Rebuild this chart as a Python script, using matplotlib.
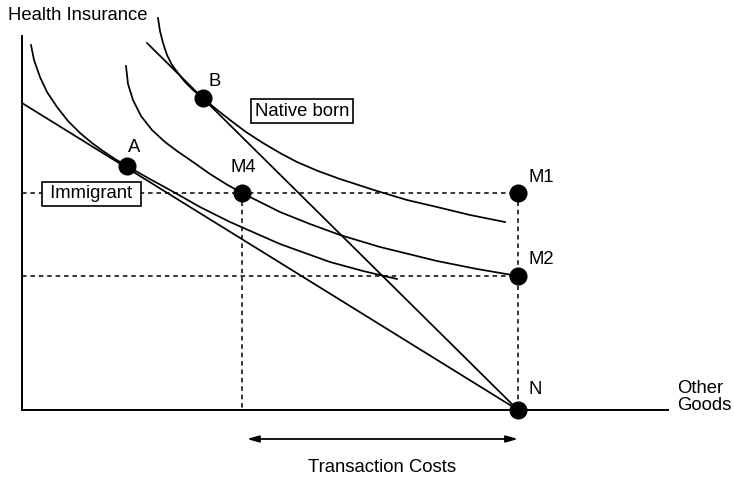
import numpy as np
import matplotlib
matplotlib.use("Agg")
import matplotlib.pyplot as plt

plt.rcParams['font.family'] = ['Liberation Sans', 'DejaVu Sans']

# indifference curves (other goods, health insurance)
immigrant_ic_x = [9, 12, 18, 25, 35, 46, 58, 70, 81, 93, 105, 126, 148, 178, 208,
                  233, 258, 283, 308, 341, 375]
immigrant_ic_y = [365, 350, 333, 318, 303, 289, 277, 267, 259, 251, 244, 232, 220, 203, 188,
                  177, 166, 157, 148, 139, 131]

m4_ic_x = [104, 106, 111, 119, 130, 143, 155, 171, 188, 204, 220, 238, 258, 288, 318,
           358, 415, 455, 496]
m4_ic_y = [344, 326, 310, 294, 280, 268, 259, 248, 236, 226, 217, 208, 198, 186, 175,
           163, 149, 141, 134]

native_ic_x = [136, 138, 141, 145, 150, 156, 163, 171, 181, 194, 208, 224, 241, 258, 275,
               296, 318, 355, 385, 415, 448, 483]
native_ic_y = [392, 379, 367, 355, 345, 337, 328, 320, 312, 301, 290, 278, 267, 257, 248,
               239, 231, 219, 210, 203, 195, 188]

# budget lines, both ending at N
immigrant_budget_x = [0, 496]
immigrant_budget_y = [307, 0]
native_budget_x = [125, 496]
native_budget_y = [367, 0]

# labelled points
point_names = ["A", "B", "M4", "M1", "M2", "N"]
point_x = [105, 181, 220, 496, 496, 496]
point_y = [244, 312, 217, 217, 134, 0]

axis_top = 374
axis_right = 646

fig = plt.figure(figsize=(7.34, 4.8), dpi=100)
ax = fig.add_axes([0, 0, 1, 1])
ax.set_xlim(-22, 712)
ax.set_ylim(-70, 410)
ax.axis("off")

lw = 1.25
# axes
ax.plot([0, 0], [0, axis_top], color="black", lw=1.4)
ax.plot([0, axis_right], [0, 0], color="black", lw=1.4)

# dashed guides
px = dict(zip(point_names, point_x))
py = dict(zip(point_names, point_y))
dash = dict(color="black", lw=1.1, linestyle=(0, (3, 2.5)))
ax.plot([0, px["M1"]], [py["M1"], py["M1"]], **dash)
ax.plot([0, px["M2"]], [py["M2"], py["M2"]], **dash)
ax.plot([px["M1"], px["N"]], [py["M1"], py["N"]], **dash)
ax.plot([px["M4"], px["M4"]], [py["M4"], 0], **dash)

# curves and budget lines
curve = dict(color="black", lw=lw, solid_joinstyle="round")
ax.plot(immigrant_ic_x, immigrant_ic_y, **curve)
ax.plot(m4_ic_x, m4_ic_y, **curve)
ax.plot(native_ic_x, native_ic_y, **curve)
ax.plot(immigrant_budget_x, immigrant_budget_y, **curve)
ax.plot(native_budget_x, native_budget_y, **curve)

ax.plot(point_x, point_y, "o", color="black", markersize=12, zorder=5)

fs = 13.3
label_pos = {"A": (112, 263, "center"), "B": (193, 328, "center"),
             "M4": (221, 242, "center"), "M1": (506, 233, "left"),
             "M2": (506, 150, "left"), "N": (507, 20, "left")}
for name, (lx, ly, ha) in label_pos.items():
    ax.text(lx, ly, name, fontsize=fs, ha=ha, va="center")

ax.text(-14, 395, "Health Insurance", fontsize=fs, ha="left", va="center")
ax.text(655, 13, "Other\nGoods", fontsize=fs, ha="left", va="center", linespacing=1.0)

box = dict(boxstyle="square,pad=0.2", facecolor="white", edgecolor="black", lw=1.2)
ax.text(280, 299, "Native born", fontsize=fs, ha="center", va="center", bbox=box, zorder=6)
ax.text(69.5, 216, " Immigrant ", fontsize=fs, ha="center", va="center", bbox=box, zorder=6)

# transaction costs arrow
ax.annotate("", xy=(225, -29), xytext=(496, -29),
            arrowprops=dict(arrowstyle="<|-|>,head_length=0.7,head_width=0.2",
                            color="black", lw=1.3, shrinkA=0, shrinkB=0))
ax.text(360, -58, "Transaction Costs", fontsize=fs, ha="center", va="center")

fig.savefig("out.png", dpi=100)
plt.close(fig)
